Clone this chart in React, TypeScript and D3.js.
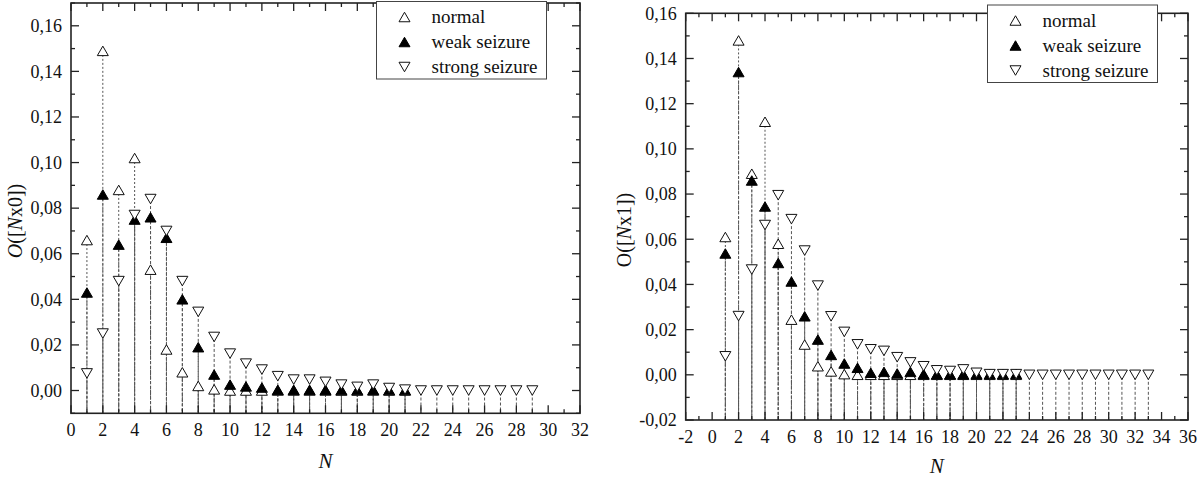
import React from "react";
import * as d3 from "d3";

// ---------- DATA ----------
const seriesNames = ["normal", "weak seizure", "strong seizure"];

// Left panel: O([Nx0]) vs N
const leftNormal = [0.066, 0.149, 0.088, 0.102, 0.053, 0.018, 0.008, 0.002, 0.0005, 0.0, 0, 0, 0, 0, 0, 0, 0, 0, 0, 0, 0];
const leftWeak = [0.043, 0.086, 0.064, 0.075, 0.076, 0.067, 0.04, 0.019, 0.007, 0.0026, 0.0018, 0.0013, 0.0003, 0.0003, 0.0003, 0.0003, 0.0002, 0.0002, 0.0003, 0.0002, 0.0002];
const leftStrong = [0.0075, 0.025, 0.048, 0.077, 0.084, 0.07, 0.048, 0.0345, 0.0235, 0.0162, 0.0118, 0.0092, 0.0063, 0.0048, 0.0048, 0.0038, 0.0026, 0.0016, 0.0026, 0.0011, 0.0004, 0, 0, 0, 0, 0, 0, 0, 0];

// Right panel: O([Nx1]) vs N
const rightNormal = [0.061, 0.148, 0.089, 0.112, 0.058, 0.0244, 0.0134, 0.0038, 0.0015, 0.0003, 0, 0, 0, 0, 0, 0, 0, 0, 0, 0, 0, 0, 0];
const rightWeak = [0.0537, 0.134, 0.086, 0.0745, 0.0495, 0.0413, 0.0259, 0.0156, 0.0088, 0.005, 0.0031, 0.0009, 0.0013, 0.0006, 0.0013, 0.0003, 0.0002, 0.0002, 0.0002, 0.0003, 0.0003, 0.0003, 0.0004];
const rightStrong = [0.0082, 0.026, 0.0466, 0.0663, 0.0795, 0.0689, 0.055, 0.0395, 0.0259, 0.019, 0.0135, 0.0113, 0.0106, 0.0078, 0.0055, 0.0038, 0.002, 0.0017, 0.0024, 0.0009, 0.0003, 0.0003, 0.0003, 0, 0, 0, 0, 0, 0, 0, 0, 0, 0];

const leftXTicks = d3.range(0, 33, 2);
const rightXTicks = d3.range(-2, 37, 2);
const leftYTicks = [0, 0.02, 0.04, 0.06, 0.08, 0.1, 0.12, 0.14, 0.16];
const rightYTicks = [-0.02, 0, 0.02, 0.04, 0.06, 0.08, 0.1, 0.12, 0.14, 0.16];

// ---------- STYLE ----------
const FONT = '"Liberation Serif", "Times New Roman", Times, "DejaVu Serif", serif';
const AXIS = "#222";
const DROP = "#555";
const fmtY = (v: number) => d3.format(".2f")(v).replace(".", ",").replace("−", "-");

type Panel = {
  xDomain: [number, number];
  yDomain: [number, number];
  xRange: [number, number];
  yRange: [number, number];
  xTicks: number[];
  yTicks: number[];
  data: number[][];
  yLabelPre: string;
  yLabelPreItalic: boolean;
  yLabelSuffix: string;
  yLabelX: number;
  yLabelY: number;
  xLabelY: number;
  legend: { x: number; y: number; w: number; h: number };
};

const panels: Panel[] = [
  {
    xDomain: [0, 32],
    yDomain: [-0.01, 0.17],
    xRange: [71, 580],
    yRange: [413.3, 3],
    xTicks: leftXTicks,
    yTicks: leftYTicks,
    data: [leftNormal, leftWeak, leftStrong],
    yLabelPre: "O",
    yLabelPreItalic: true,
    yLabelSuffix: "x0])",
    yLabelX: 22,
    yLabelY: 221,
    xLabelY: 468,
    legend: { x: 376.5, y: 1.5, w: 170, h: 77.5 },
  },
  {
    xDomain: [-2, 36],
    yDomain: [-0.02, 0.16],
    xRange: [685.7, 1188],
    yRange: [420, 13.3],
    xTicks: rightXTicks,
    yTicks: rightYTicks,
    data: [rightNormal, rightWeak, rightStrong],
    yLabelPre: "O",
    yLabelPreItalic: false,
    yLabelSuffix: "x1])",
    yLabelX: 631,
    yLabelY: 230,
    xLabelY: 473,
    legend: { x: 987.5, y: 5, w: 170, h: 77.5 },
  },
];

const TW = 11;
const TH = 9.5;
const upTri = `M0,${-TH / 2}L${TW / 2},${TH / 2}L${-TW / 2},${TH / 2}Z`;
const downTri = `M0,${TH / 2}L${TW / 2},${-TH / 2}L${-TW / 2},${-TH / 2}Z`;

const markerStyle = [
  { d: upTri, fill: "#fff", stroke: "#111" },
  { d: upTri, fill: "#000", stroke: "#000" },
  { d: downTri, fill: "#fff", stroke: "#111" },
];
const dropStyle = [
  { dash: "2,2", offset: 0 },
  { dash: "3,2", offset: 1 },
  { dash: "3,2", offset: 3 },
];

const txt = { fontFamily: FONT, fill: "#111" } as React.CSSProperties;

function PanelView({ p }: { p: Panel }) {
  const x = d3.scaleLinear().domain(p.xDomain).range(p.xRange);
  const y = d3.scaleLinear().domain(p.yDomain).range(p.yRange);
  const [x0, x1] = p.xRange;
  const [yb, yt] = p.yRange;
  const xMinor = d3.range(p.xDomain[0], p.xDomain[1] + 0.001, 1).filter((v) => !p.xTicks.includes(v));
  const yMinor = d3
    .range(p.yDomain[0], p.yDomain[1] + 0.0001, 0.01)
    .map((v) => Math.round(v * 1000) / 1000)
    .filter((v) => !p.yTicks.some((t) => Math.abs(t - v) < 1e-6));
  const MAJ = 8;
  const MIN = 4;
  const cx = (x0 + x1) / 2;

  return (
    <g>
      {p.data.map((s, si) => (
        <g key={"d" + si}>
          {s.map((v, i) => (
            <line
              key={i}
              x1={x(i + 1)}
              x2={x(i + 1)}
              y1={y(v)}
              y2={yb}
              stroke={DROP}
              strokeWidth={1}
              strokeDasharray={dropStyle[si].dash}
              strokeDashoffset={dropStyle[si].offset}
            />
          ))}
        </g>
      ))}
      {p.data.map((s, si) => (
        <g key={"m" + si}>
          {s.map((v, i) => (
            <path
              key={i}
              d={markerStyle[si].d}
              transform={`translate(${x(i + 1)},${y(v)})`}
              fill={markerStyle[si].fill}
              stroke={markerStyle[si].stroke}
              strokeWidth={1}
            />
          ))}
        </g>
      ))}
      <rect x={x0} y={yt} width={x1 - x0} height={yb - yt} fill="none" stroke={AXIS} strokeWidth={1.6} />
      {p.xTicks.map((t) => (
        <g key={"xt" + t}>
          <line x1={x(t)} x2={x(t)} y1={yb} y2={yb - MAJ} stroke={AXIS} strokeWidth={1.3} />
          <line x1={x(t)} x2={x(t)} y1={yt} y2={yt + MAJ} stroke={AXIS} strokeWidth={1.3} />
          <text x={x(t)} y={yb + 22.5} textAnchor="middle" style={{ ...txt, fontSize: 18 }}>
            {t}
          </text>
        </g>
      ))}
      {xMinor.map((t) => (
        <g key={"xm" + t}>
          <line x1={x(t)} x2={x(t)} y1={yb} y2={yb - MIN} stroke={AXIS} strokeWidth={1.3} />
          <line x1={x(t)} x2={x(t)} y1={yt} y2={yt + MIN} stroke={AXIS} strokeWidth={1.3} />
        </g>
      ))}
      {p.yTicks.map((t) => (
        <g key={"yt" + t}>
          <line x1={x0} x2={x0 + MAJ} y1={y(t)} y2={y(t)} stroke={AXIS} strokeWidth={1.3} />
          <line x1={x1} x2={x1 - MAJ} y1={y(t)} y2={y(t)} stroke={AXIS} strokeWidth={1.3} />
          <text x={x0 - 9} y={y(t)} dy="0.35em" textAnchor="end" style={{ ...txt, fontSize: 18 }}>
            {fmtY(t)}
          </text>
        </g>
      ))}
      {yMinor.map((t) => (
        <g key={"ym" + t}>
          <line x1={x0} x2={x0 + MIN} y1={y(t)} y2={y(t)} stroke={AXIS} strokeWidth={1.3} />
          <line x1={x1} x2={x1 - MIN} y1={y(t)} y2={y(t)} stroke={AXIS} strokeWidth={1.3} />
        </g>
      ))}
      <text
        transform={`translate(${p.yLabelX},${p.yLabelY}) rotate(-90)`}
        textAnchor="middle"
        style={{ ...txt, fontSize: 20 }}
      >
        <tspan style={{ fontStyle: p.yLabelPreItalic ? "italic" : "normal" }}>{p.yLabelPre}</tspan>
        <tspan>([</tspan>
        <tspan style={{ fontStyle: "italic" }}>N</tspan>
        <tspan>{p.yLabelSuffix}</tspan>
      </text>
      <text x={cx} y={p.xLabelY} textAnchor="middle" style={{ ...txt, fontSize: 21, fontStyle: "italic" }}>
        N
      </text>
      <g>
        <rect
          x={p.legend.x}
          y={p.legend.y}
          width={p.legend.w}
          height={p.legend.h}
          fill="#fff"
          stroke="#444"
          strokeWidth={1}
        />
        {seriesNames.map((name, si) => {
          const ly = p.legend.y + 15.5 + si * 25;
          return (
            <g key={name}>
              <path
                d={markerStyle[si].d}
                transform={`translate(${p.legend.x + 28},${ly})`}
                fill={markerStyle[si].fill}
                stroke={markerStyle[si].stroke}
                strokeWidth={1}
              />
              <text x={p.legend.x + 55} y={ly} dy="0.33em" style={{ ...txt, fontSize: 19 }}>
                {name}
              </text>
            </g>
          );
        })}
      </g>
    </g>
  );
}

export default function App() {
  return (
    <svg
      width={1200}
      height={479}
      style={{ position: "absolute", left: 0, top: 0, background: "#fff" }}
    >
      <rect x={0} y={0} width={1200} height={479} fill="#fff" />
      {panels.map((p, i) => (
        <PanelView key={i} p={p} />
      ))}
    </svg>
  );
}
